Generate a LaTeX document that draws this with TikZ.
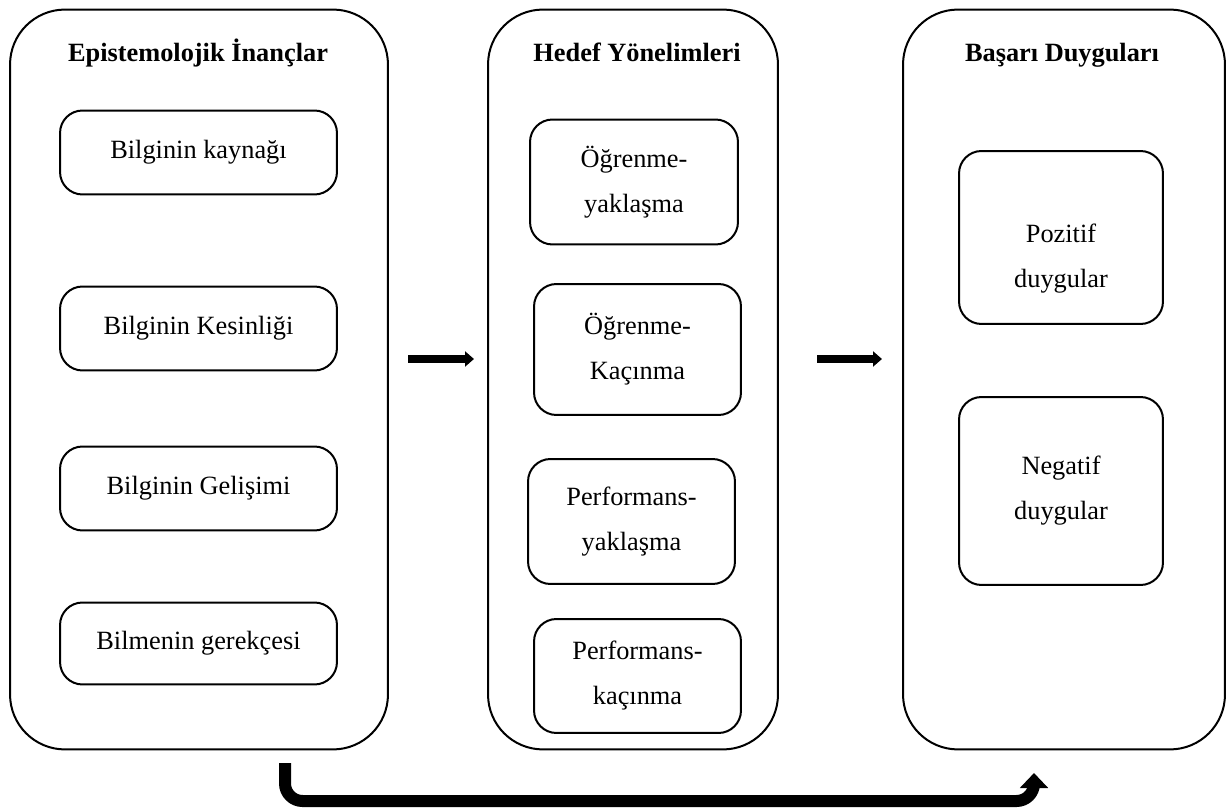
\documentclass[tikz,border=0pt]{standalone}
\usepackage{fontspec}
\setmainfont{Liberation Serif}
\usetikzlibrary{arrows.meta}

\tikzset{
	panel/.style={draw,line width=0.04cm,rounded corners=1.1cm,minimum height=14.8cm},
	itembox/.style={draw,line width=0.04cm,rounded corners=0.45cm,align=center,
		font=\fontsize{15}{25.6}\selectfont},
	heading/.style={anchor=base,font=\bfseries\fontsize{15}{18}\selectfont},
	flow/.style={line width=0.16cm,-{Triangle[length=0.18cm,width=0.3cm]}},
	loop/.style={line width=0.24cm,rounded corners=0.35cm,-{Triangle[length=0.3cm,width=0.55cm]}}
}

\begin{document}
\begin{tikzpicture}[x=0.02cm,y=-0.02cm]
		\useasboundingbox (0,0) rectangle (1227,810);
		% the three groups
		\node[panel,minimum width=7.56cm] (epis) at (199,379.5) {};
		\node[panel,minimum width=5.8cm] (hedef) at (633,379.5) {};
		\node[panel,minimum width=6.44cm] (basari) at (1064,379.5) {};
		\node[heading] (episT) at (198,62) {Epistemolojik İnançlar};
		\node[heading] (hedefT) at (637,62) {Hedef Yönelimleri};
		\node[heading] (basariT) at (1062,62) {Başarı Duyguları};
		% epistemolojik inanclar
		\node[itembox,minimum width=5.54cm,minimum height=1.68cm] (kaynak) at (198.5,152.5) {Bilginin kaynağı};
		\node[itembox,minimum width=5.54cm,minimum height=1.68cm] (kesin) at (198.5,328.5) {Bilginin Kesinliği};
		\node[itembox,minimum width=5.54cm,minimum height=1.68cm] (gelis) at (198.5,488.5) {Bilginin Gelişimi};
		\node[itembox,minimum width=5.54cm,minimum height=1.64cm] (gerekce) at (198.5,643.5) {Bilmenin gerekçesi};
		% hedef yonelimleri
		\node[itembox,minimum width=4.16cm,minimum height=2.5cm] (oy) at (634,182) {Öğrenme-\\yaklaşma};
		\node[itembox,minimum width=4.14cm,minimum height=2.62cm] (ok) at (637.5,349.5) {Öğrenme-\\Kaçınma};
		\node[itembox,minimum width=4.14cm,minimum height=2.5cm] (py) at (631.5,521.5) {Performans-\\yaklaşma};
		\node[itembox,minimum width=4.14cm,minimum height=2.28cm] (pk) at (637.5,676) {Performans-\\kaçınma};
		% basari duygulari (text sits low in the first box)
		\node[itembox,minimum width=4.08cm,minimum height=3.46cm] (pozitif) at (1061,237.5) {\rule{0pt}{1.2cm}Pozitif\\duygular};
		\node[itembox,minimum width=4.08cm,minimum height=3.76cm] (negatif) at (1061,491) {Negatif\\duygular};
		% arrows
		\coordinate (f1s) at (408,359);
		\coordinate (f1e) at (474,359);
		\coordinate (f2s) at (817,359);
		\coordinate (f2e) at (882,359);
		\draw[flow] (f1s) -- (f1e);
		\draw[flow] (f2s) -- (f2e);
		\coordinate (ls) at (285,763);
		\coordinate (le) at (1034,773);
		\draw[loop] (ls) -- (285,801) -- (1034,801) -- (le);
\end{tikzpicture}
\end{document}
